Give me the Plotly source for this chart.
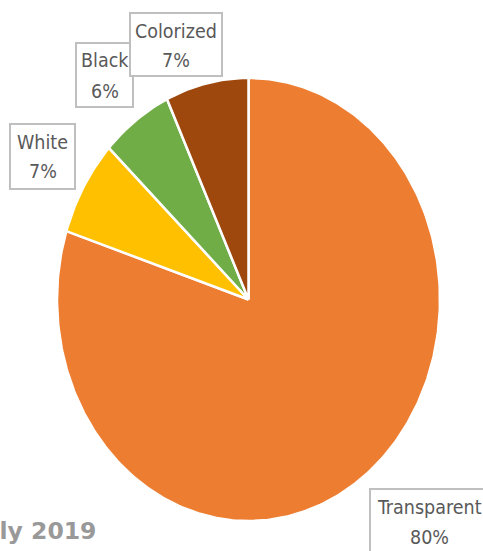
import numpy as np
import plotly.graph_objects as go

# Share of output by colour, July 2019
categories = ["Transparent", "White", "Black", "Colorized"]
shares = [80, 7, 6, 7]
slice_colors = ["#ED7D31", "#FFC000", "#70AD47", "#9E480E"]
title_text = "July 2019"

W, H = 483, 551
ML, MR, MT, MB = 57, 43, 78, 30
PW, PH = W - ML - MR, H - MT - MB

total = float(sum(shares))
fig = go.Figure()

# Slices run clockwise from 12 o'clock on a unit circle; the unequal
# pixel span of the two axes gives the pie its upright oval shape.
start = 0.0
for name, v, col in zip(categories, shares, slice_colors):
    frac = v / total
    theta = np.linspace(start, start + frac, max(int(frac * 400), 8)) * 2 * np.pi
    xs = np.concatenate([[0.0], np.sin(theta), [0.0]])
    ys = np.concatenate([[0.0], np.cos(theta), [0.0]])
    fig.add_trace(go.Scatter(
        x=xs, y=ys, mode="lines", fill="toself", fillcolor=col,
        line=dict(color="white", width=2.5), name=name,
        hoverinfo="name", showlegend=False,
    ))
    start += frac


def px_x(px):
    return (px - ML) / PW


def px_y(py):
    return (H - MB - py) / PH


# Data-label boxes in pixels: left, top, right, bottom
label_boxes = {
    "White": (9, 123, 76, 190),
    "Black": (75, 42, 134, 108),
    "Colorized": (129, 12, 223, 77),
    "Transparent": (369, 488, 490, 554),
}
label_font = dict(family="DejaVu Sans Condensed, Liberation Sans Narrow, sans-serif",
                  size=19.5, color="#595959")
for name in ["White", "Black", "Colorized", "Transparent"]:
    v = shares[categories.index(name)]
    x0, y0, x1, y1 = label_boxes[name]
    fig.add_shape(
        type="rect", xref="paper", yref="paper", layer="above",
        x0=px_x(x0 + 1), x1=px_x(x1 - 1), y0=px_y(y0 + 1), y1=px_y(y1 - 1),
        fillcolor="white", line=dict(color="#BFBFBF", width=2),
    )
    cx = (x0 + x1) / 2
    for line_text, dy in [(name, 19), (f"{v / total * 100:.0f}%", 49)]:
        fig.add_annotation(
            x=px_x(cx), y=px_y(y0 + dy), xref="paper", yref="paper",
            xanchor="center", yanchor="middle", showarrow=False,
            text=line_text, font=label_font,
        )

fig.add_annotation(
    x=px_x(98), y=px_y(531), xref="paper", yref="paper",
    xanchor="right", yanchor="middle", showarrow=False,
    text=f"<b>{title_text}</b>",
    font=dict(family="DejaVu Sans", size=23.5, color="#999999"),
)

fig.update_xaxes(range=[-1, 1], visible=False, fixedrange=True)
fig.update_yaxes(range=[-1, 1], visible=False, fixedrange=True)
fig.update_layout(
    width=W, height=H,
    margin=dict(l=ML, r=MR, t=MT, b=MB),
    paper_bgcolor="white", plot_bgcolor="white",
)

fig.write_html("out.html")
